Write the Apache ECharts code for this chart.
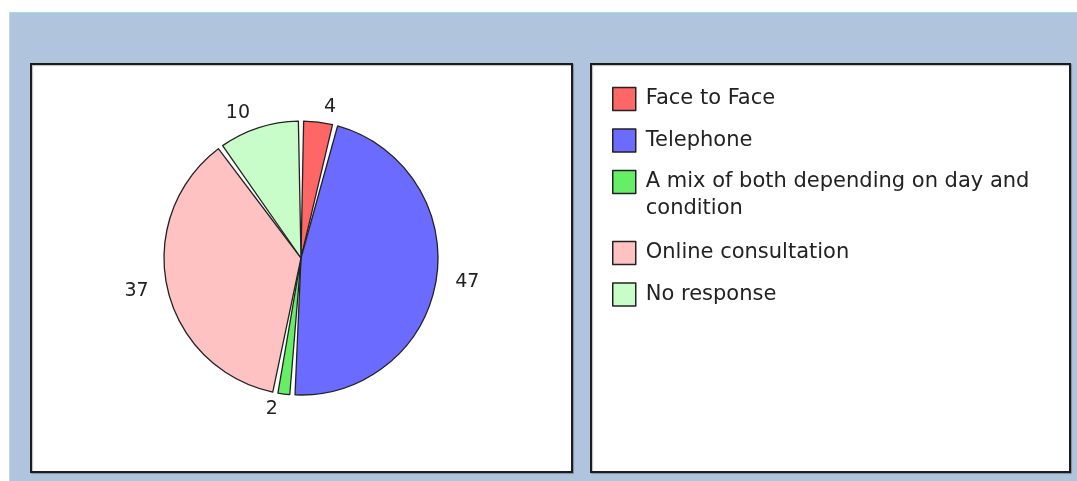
<!DOCTYPE html>
<html>
<head>
<meta charset="utf-8">
<script src="https://cdn.jsdelivr.net/npm/echarts@6.0.0/dist/echarts.min.js"></script>
<style>
  html, body { margin: 0; padding: 0; background: #fff; overflow: hidden; }
  #pie-frame { width: 1077px; height: 481px; }
</style>
</head>
<body>
<div id="pie-frame"></div>
<script>
// data
var categories = ['Face to Face', 'Telephone', 'A mix of both depending on day and\ncondition', 'Online consultation', 'No response'];
var values = [4, 47, 2, 37, 10];
var colors = ['#ff6666', '#6b6bff', '#66ee66', '#ffc2c2', '#c8fcc8'];

var pie_frame = echarts.init(document.getElementById('pie-frame'));

var pieData = [];
for (var i = 0; i < categories.length; i++) {
    pieData.push({ name: categories[i], value: values[i], itemStyle: { color: colors[i] } });
}

// legend text look shared by the three legend blocks
var legendText = {
    fontFamily: 'DejaVu Sans',
    fontSize: 21,
    color: '#222',
    lineHeight: 27,
    padding: [0, 0, 0, 5]
};
var legendBase = {
    orient: 'vertical',
    left: 612,
    padding: 0,
    icon: 'rect',
    itemWidth: 23,
    itemHeight: 23,
    itemGap: 14.5,
    selectedMode: false,
    itemStyle: { borderColor: '#222', borderWidth: 1.5 },
    textStyle: legendText
};

var option = {
    backgroundColor: '#fff',
    animation: false,
    graphic: [
        { type: 'rect', shape: { x: 9, y: 12, width: 1068, height: 469 }, style: { fill: '#b0c5dd' } },
        { type: 'line', shape: { x1: 9, y1: 12.5, x2: 1077, y2: 12.5 }, style: { stroke: '#a6dbe9', lineWidth: 1 } },
        { type: 'line', shape: { x1: 9.5, y1: 12, x2: 9.5, y2: 481 }, style: { stroke: '#bcd6ea', lineWidth: 1 } },
        {
            type: 'rect', shape: { x: 31, y: 64, width: 541, height: 408 },
            style: { fill: '#fff', stroke: '#1c1c1c', lineWidth: 2, shadowColor: 'rgba(0,0,0,0.25)', shadowOffsetX: 1, shadowOffsetY: 1, shadowBlur: 1 }
        },
        {
            type: 'rect', shape: { x: 591, y: 64, width: 479, height: 408 },
            style: { fill: '#fff', stroke: '#1c1c1c', lineWidth: 2, shadowColor: 'rgba(0,0,0,0.25)', shadowOffsetX: 1, shadowOffsetY: 1, shadowBlur: 1 }
        }
    ],
    legend: [
        Object.assign({}, legendBase, { top: 85.5, data: [categories[0], categories[1]] }),
        Object.assign({}, legendBase, {
            top: 141.5,
            data: [categories[2]],
            // empty first line so the icon sits beside the first text line
            formatter: function (name) { return '\n' + name; }
        }),
        Object.assign({}, legendBase, { top: 239.5, data: [categories[3], categories[4]] })
    ],
    series: [
        {
            type: 'pie',
            center: [301, 258],
            radius: 137,
            startAngle: 90,
            clockwise: true,
            padAngle: 2.2,
            avoidLabelOverlap: false,
            itemStyle: { borderColor: '#222', borderWidth: 1.3 },
            label: {
                show: true,
                position: 'outside',
                formatter: '{c}',
                fontFamily: 'DejaVu Sans',
                fontSize: 19,
                color: '#222',
                distanceToLabelLine: 4
            },
            labelLine: { show: false, length: 15, length2: 0 },
            emphasis: { disabled: true },
            data: pieData
        }
    ]
};

pie_frame.setOption(option);
</script>
</body>
</html>
